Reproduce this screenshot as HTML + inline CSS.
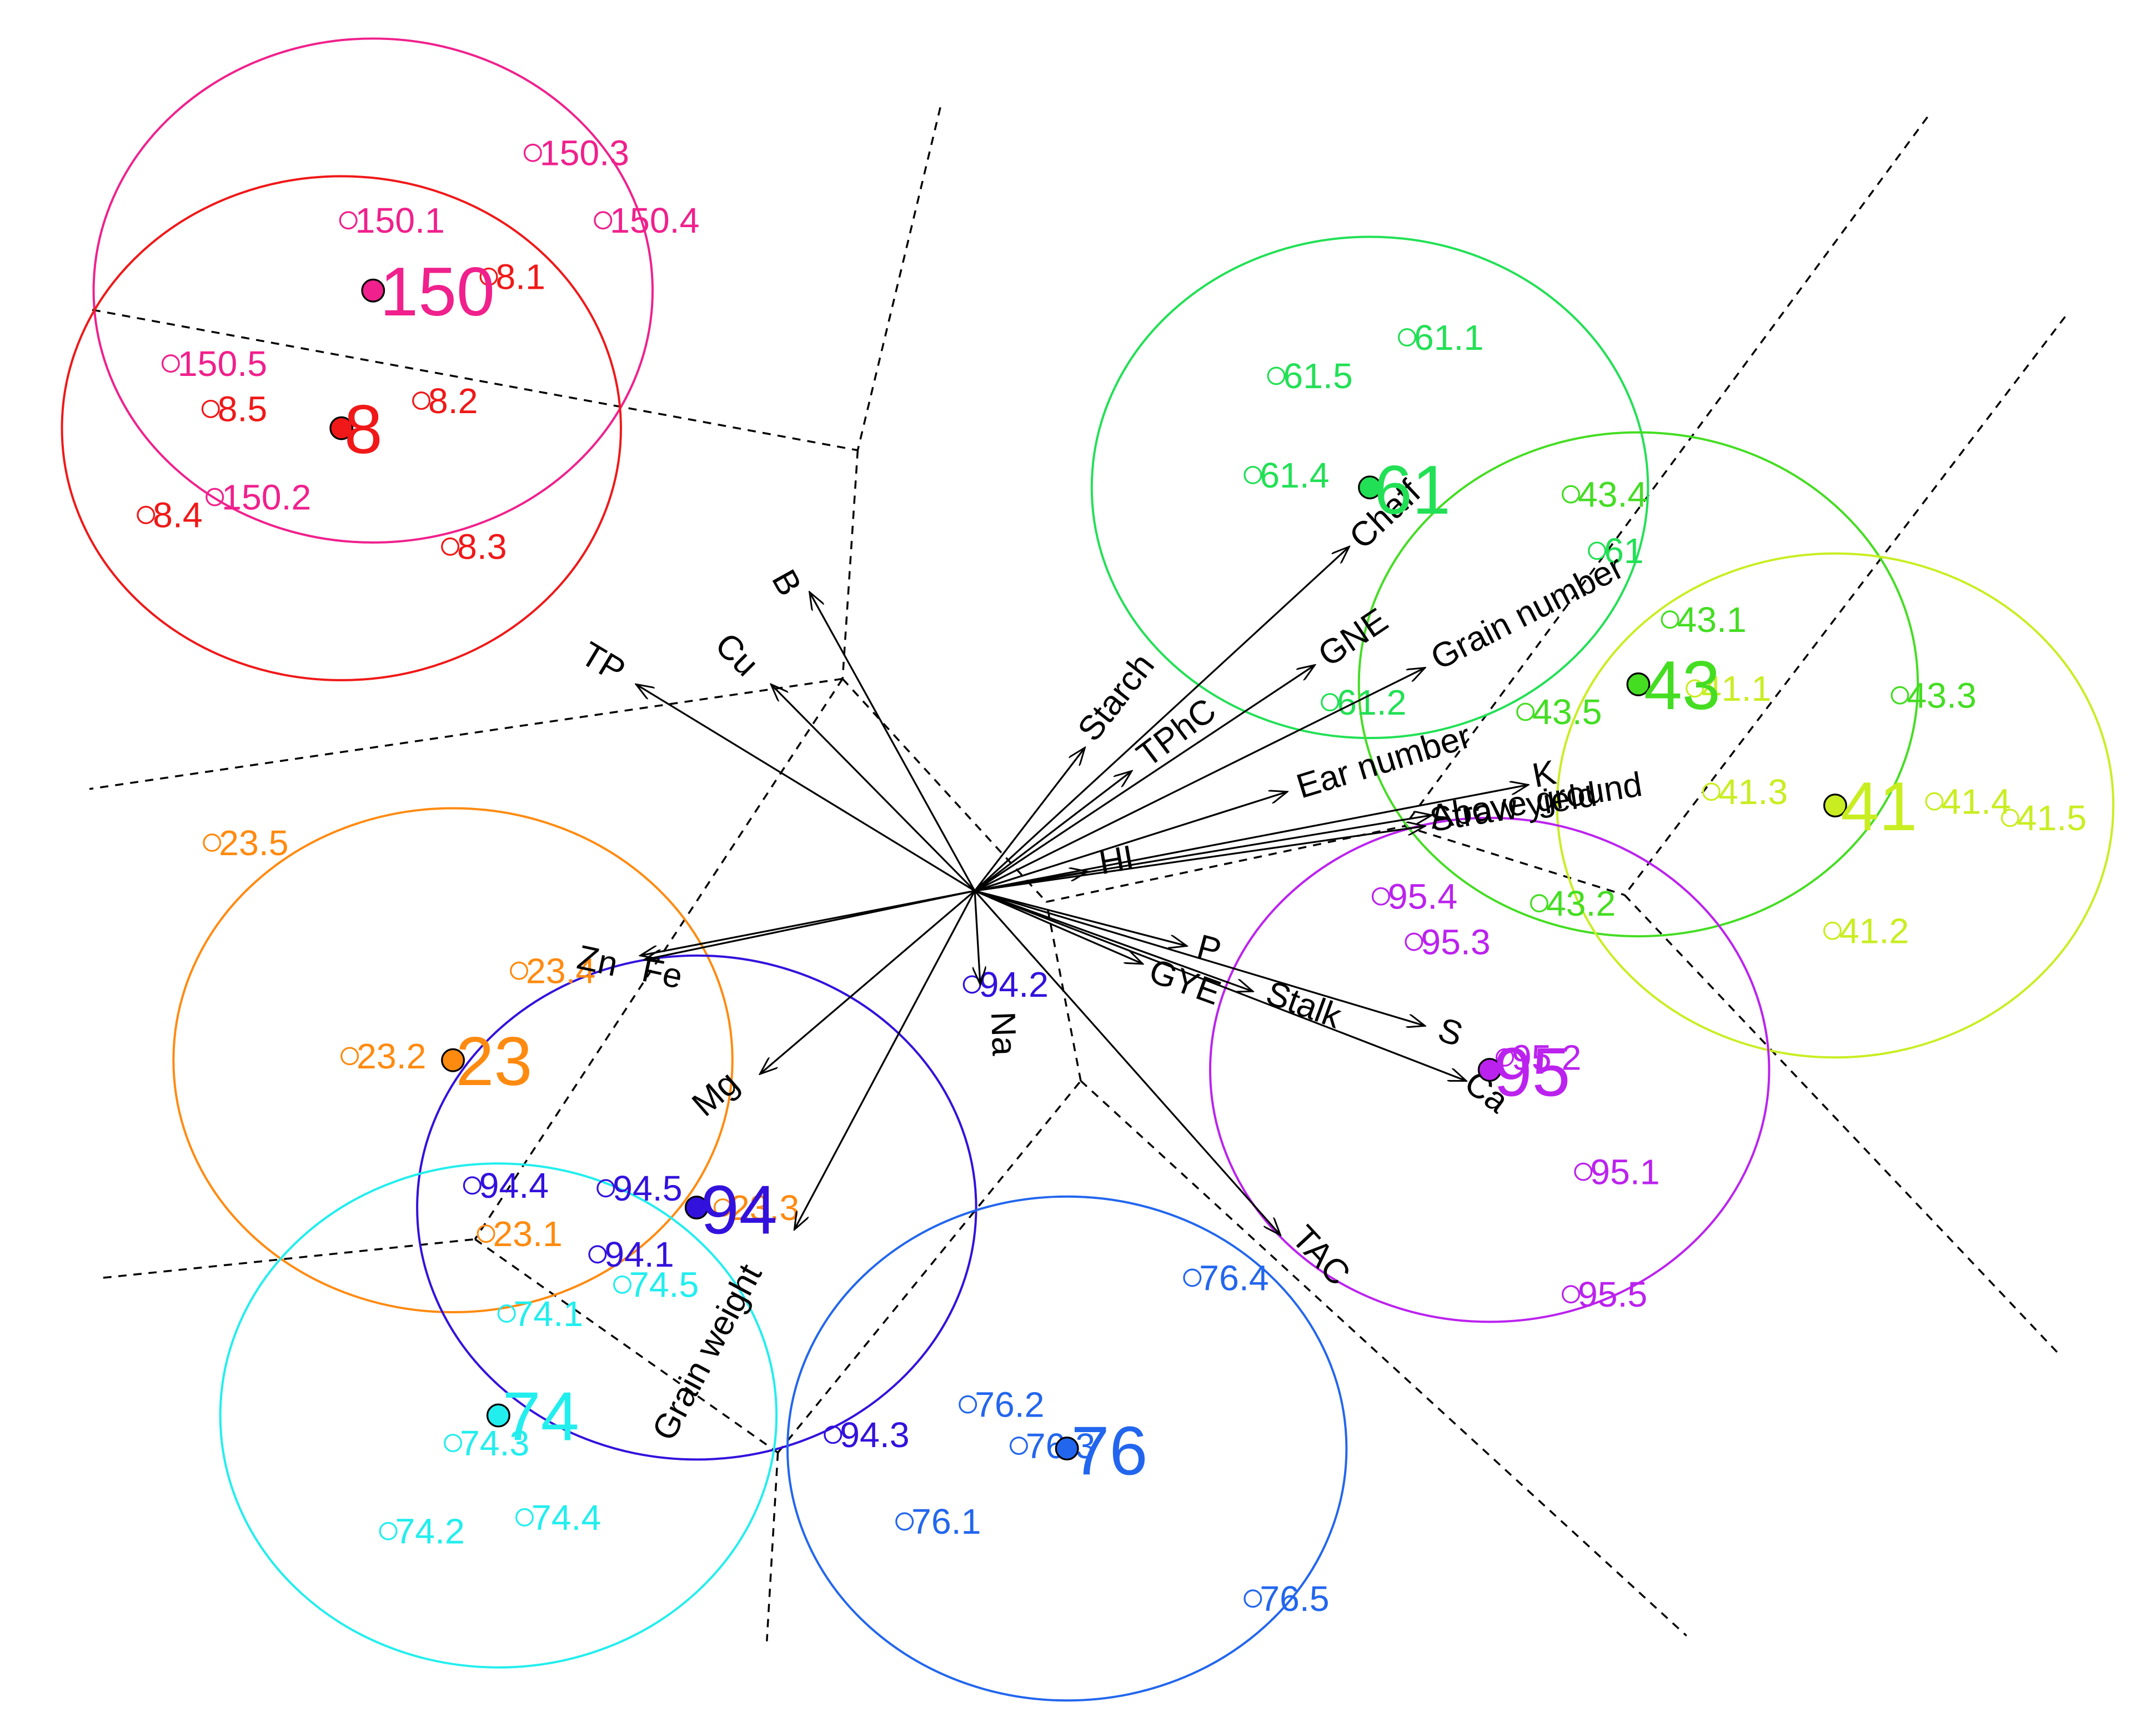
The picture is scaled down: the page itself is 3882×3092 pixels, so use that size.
<!DOCTYPE html>
<html><head><meta charset="utf-8"><style>
html,body{margin:0;padding:0;background:#fff}
svg{display:block}
text{font-family:"Liberation Sans",sans-serif}
</style></head><body>
<svg width="3882" height="3092" viewBox="0 0 1566 1247" preserveAspectRatio="none" xmlns="http://www.w3.org/2000/svg">
<defs>
<marker id="ah" markerWidth="14" markerHeight="10" refX="13" refY="5" orient="auto" markerUnits="userSpaceOnUse">
<path d="M0,0 L13,5 L0,10" fill="none" stroke="#000" stroke-width="1.2"/></marker>
</defs>
<rect width="1566" height="1247" fill="#fff"/>
<g stroke="#000" stroke-width="1.4" stroke-dasharray="6,5" fill="none">
<line x1="683" y1="78" x2="623" y2="327"/>
<line x1="67" y1="225" x2="623" y2="327"/>
<line x1="623" y1="327" x2="612" y2="493"/>
<line x1="612" y1="493" x2="65" y2="573"/>
<line x1="612" y1="493" x2="345" y2="900"/>
<line x1="75" y1="928" x2="345" y2="900"/>
<line x1="345" y1="900" x2="565" y2="1055"/>
<line x1="565" y1="1055" x2="557" y2="1192"/>
<line x1="565" y1="1055" x2="785" y2="785"/>
<line x1="785" y1="785" x2="1225" y2="1188"/>
<line x1="785" y1="785" x2="760" y2="655"/>
<line x1="612" y1="493" x2="760" y2="655"/>
<line x1="760" y1="655" x2="1020" y2="600"/>
<line x1="1400" y1="85" x2="1020" y2="600"/>
<line x1="1020" y1="600" x2="1180" y2="650"/>
<line x1="1500" y1="230" x2="1180" y2="650"/>
<line x1="1180" y1="650" x2="1497" y2="985"/>
</g>
<g fill="none" stroke-width="1.6">
<ellipse cx="271" cy="211" rx="203" ry="183" stroke="#f0208c"/>
<ellipse cx="248" cy="311" rx="203" ry="183" stroke="#f01818"/>
<ellipse cx="995" cy="354" rx="202" ry="182" stroke="#22e055"/>
<ellipse cx="1190" cy="497" rx="203" ry="183" stroke="#44dd22"/>
<ellipse cx="1333" cy="585" rx="202" ry="183" stroke="#c8ee22"/>
<ellipse cx="1082" cy="777" rx="203" ry="183" stroke="#bb22ee"/>
<ellipse cx="329" cy="770" rx="203" ry="183" stroke="#ff8a10"/>
<ellipse cx="506" cy="877" rx="203" ry="183" stroke="#3311dd"/>
<ellipse cx="362" cy="1028" rx="202" ry="183" stroke="#22eeee"/>
<ellipse cx="775" cy="1052" rx="203" ry="183" stroke="#2266ee"/>
</g>
<g fill="none" stroke-width="1.3">
<g stroke="#f0208c"><circle cx="387" cy="111" r="6"/><circle cx="253" cy="160" r="6"/><circle cx="438" cy="160" r="6"/><circle cx="124" cy="264" r="6"/><circle cx="156" cy="361" r="6"/></g>
<g stroke="#f01818"><circle cx="355" cy="201" r="6"/><circle cx="153" cy="297" r="6"/><circle cx="306" cy="291" r="6"/><circle cx="106" cy="374" r="6"/><circle cx="327" cy="397" r="6"/></g>
<g stroke="#22e055"><circle cx="1022" cy="245" r="6"/><circle cx="927" cy="273" r="6"/><circle cx="910" cy="345" r="6"/><circle cx="966" cy="510" r="6"/><circle cx="1160" cy="400" r="6"/></g>
<g stroke="#44dd22"><circle cx="1141" cy="359" r="6"/><circle cx="1213" cy="450" r="6"/><circle cx="1380" cy="505" r="6"/><circle cx="1108" cy="517" r="6"/><circle cx="1118" cy="656" r="6"/></g>
<g stroke="#c8ee22"><circle cx="1231" cy="500" r="6"/><circle cx="1243" cy="575" r="6"/><circle cx="1405" cy="582" r="6"/><circle cx="1460" cy="594" r="6"/><circle cx="1331" cy="676" r="6"/></g>
<g stroke="#bb22ee"><circle cx="1003" cy="651" r="6"/><circle cx="1027" cy="684" r="6"/><circle cx="1093" cy="768" r="6"/><circle cx="1150" cy="851" r="6"/><circle cx="1141" cy="940" r="6"/></g>
<g stroke="#ff8a10"><circle cx="154" cy="612" r="6"/><circle cx="377" cy="705" r="6"/><circle cx="254" cy="767" r="6"/><circle cx="353" cy="896" r="6"/><circle cx="525" cy="877" r="6"/></g>
<g stroke="#3311dd"><circle cx="706" cy="715" r="6"/><circle cx="343" cy="861" r="6"/><circle cx="440" cy="863" r="6"/><circle cx="434" cy="911" r="6"/><circle cx="605" cy="1042" r="6"/></g>
<g stroke="#22eeee"><circle cx="368" cy="954" r="6"/><circle cx="452" cy="933" r="6"/><circle cx="329" cy="1048" r="6"/><circle cx="282" cy="1112" r="6"/><circle cx="381" cy="1102" r="6"/></g>
<g stroke="#2266ee"><circle cx="866" cy="928" r="6"/><circle cx="703" cy="1020" r="6"/><circle cx="740" cy="1050" r="6"/><circle cx="657" cy="1105" r="6"/><circle cx="910" cy="1161" r="6"/></g>
</g>
<g font-size="26">
<g fill="#f0208c"><text x="392" y="120">150.3</text><text x="258" y="169">150.1</text><text x="443" y="169">150.4</text><text x="129" y="273">150.5</text><text x="161" y="370">150.2</text></g>
<g fill="#f01818"><text x="360" y="210">8.1</text><text x="158" y="306">8.5</text><text x="311" y="300">8.2</text><text x="111" y="383">8.4</text><text x="332" y="406">8.3</text></g>
<g fill="#22e055"><text x="1027" y="254">61.1</text><text x="932" y="282">61.5</text><text x="915" y="354">61.4</text><text x="971" y="519">61.2</text><text x="1165" y="409">61</text></g>
<g fill="#44dd22"><text x="1146" y="368">43.4</text><text x="1218" y="459">43.1</text><text x="1385" y="514">43.3</text><text x="1113" y="526">43.5</text><text x="1123" y="665">43.2</text></g>
<g fill="#c8ee22"><text x="1236" y="509">41.1</text><text x="1248" y="584">41.3</text><text x="1410" y="591">41.4</text><text x="1465" y="603">41.5</text><text x="1336" y="685">41.2</text></g>
<g fill="#bb22ee"><text x="1008" y="660">95.4</text><text x="1032" y="693">95.3</text><text x="1098" y="777">95.2</text><text x="1155" y="860">95.1</text><text x="1146" y="949">95.5</text></g>
<g fill="#ff8a10"><text x="159" y="621">23.5</text><text x="382" y="714">23.4</text><text x="259" y="776">23.2</text><text x="358" y="905">23.1</text><text x="530" y="886">23.3</text></g>
<g fill="#3311dd"><text x="711" y="724">94.2</text><text x="348" y="870">94.4</text><text x="445" y="872">94.5</text><text x="439" y="920">94.1</text><text x="610" y="1051">94.3</text></g>
<g fill="#22eeee"><text x="373" y="963">74.1</text><text x="457" y="942">74.5</text><text x="334" y="1057">74.3</text><text x="287" y="1121">74.2</text><text x="386" y="1111">74.4</text></g>
<g fill="#2266ee"><text x="871" y="937">76.4</text><text x="708" y="1029">76.2</text><text x="745" y="1059">76.3</text><text x="662" y="1114">76.1</text><text x="915" y="1170">76.5</text></g>
</g>
<g stroke="#000" stroke-width="1.3" marker-end="url(#ah)">
<line x1="708" y1="647" x2="588" y2="430"/>
<line x1="708" y1="647" x2="560" y2="497"/>
<line x1="708" y1="647" x2="462" y2="497"/>
<line x1="708" y1="647" x2="788" y2="543"/>
<line x1="708" y1="647" x2="822" y2="560"/>
<line x1="708" y1="647" x2="955" y2="483"/>
<line x1="708" y1="647" x2="980" y2="397"/>
<line x1="708" y1="647" x2="1035" y2="485"/>
<line x1="708" y1="647" x2="935" y2="575"/>
<line x1="708" y1="647" x2="1110" y2="570"/>
<line x1="708" y1="647" x2="1040" y2="592"/>
<line x1="708" y1="647" x2="1035" y2="600"/>
<line x1="708" y1="647" x2="790" y2="633"/>
<line x1="708" y1="647" x2="862" y2="687"/>
<line x1="708" y1="647" x2="830" y2="700"/>
<line x1="708" y1="647" x2="910" y2="720"/>
<line x1="708" y1="647" x2="1035" y2="745"/>
<line x1="708" y1="647" x2="1065" y2="785"/>
<line x1="708" y1="647" x2="930" y2="897"/>
<line x1="708" y1="647" x2="712" y2="715"/>
<line x1="708" y1="647" x2="577" y2="893"/>
<line x1="708" y1="647" x2="552" y2="780"/>
<line x1="708" y1="647" x2="468" y2="697"/>
<line x1="708" y1="647" x2="465" y2="694"/>
</g>
<g font-size="25" fill="#000">
<text transform="translate(560,420) rotate(61)">B</text>
<text transform="translate(518,470) rotate(45)">Cu</text>
<text transform="translate(420,480) rotate(31)">TP</text>
<text transform="translate(795,540) rotate(-52)">Starch</text>
<text transform="translate(834,558) rotate(-37)">TPhC</text>
<text transform="translate(965,485) rotate(-34)">GNE</text>
<text transform="translate(990,400) rotate(-43)">Chaff</text>
<text transform="translate(1045,487) rotate(-27)">Grain number</text>
<text transform="translate(945,580) rotate(-17)">Ear number</text>
<text transform="translate(1115,572) rotate(-11)">K</text>
<text transform="translate(1040,602) rotate(-9)">Above ground</text>
<text transform="translate(1040,604) rotate(-9)">Straw yield</text>
<text transform="translate(800,635) rotate(-10)">HI</text>
<text transform="translate(868,695) rotate(15)">P</text>
<text transform="translate(833,712) rotate(20)">GYE</text>
<text transform="translate(918,728) rotate(20)">Stalk</text>
<text transform="translate(1043,755) rotate(18)">S</text>
<text transform="translate(1062,790) rotate(37)">Ca</text>
<text transform="translate(937,900) rotate(47)">TAC</text>
<text transform="translate(720,735) rotate(88)">Na</text>
<text transform="translate(488,1048) rotate(-62)">Grain weight</text>
<text transform="translate(512,812) rotate(-41)">Mg</text>
<text transform="translate(465,712) rotate(12)">Fe</text>
<text transform="translate(418,703) rotate(12)">Zn</text>
</g>
<g stroke="#000" stroke-width="1.3">
<circle cx="271" cy="211" r="8" fill="#f0208c"/>
<circle cx="248" cy="311" r="8" fill="#f01818"/>
<circle cx="995" cy="354" r="8" fill="#22e055"/>
<circle cx="1190" cy="497" r="8" fill="#44dd22"/>
<circle cx="1333" cy="585" r="8" fill="#c8ee22"/>
<circle cx="1082" cy="777" r="8" fill="#bb22ee"/>
<circle cx="329" cy="770" r="8" fill="#ff8a10"/>
<circle cx="506" cy="877" r="8" fill="#3311dd"/>
<circle cx="362" cy="1028" r="8" fill="#22eeee"/>
<circle cx="775" cy="1052" r="8" fill="#2266ee"/>
</g>
<g font-size="50">
<text x="276" y="229" fill="#f0208c">150</text>
<text x="250" y="329" fill="#f01818">8</text>
<text x="998" y="373" fill="#22e055">61</text>
<text x="1194" y="515" fill="#44dd22">43</text>
<text x="1337" y="603" fill="#c8ee22">41</text>
<text x="1085" y="796" fill="#bb22ee">95</text>
<text x="331" y="788" fill="#ff8a10">23</text>
<text x="509" y="896" fill="#3311dd">94</text>
<text x="365" y="1046" fill="#22eeee">74</text>
<text x="778" y="1071" fill="#2266ee">76</text>
</g>
</svg>
</body></html>
